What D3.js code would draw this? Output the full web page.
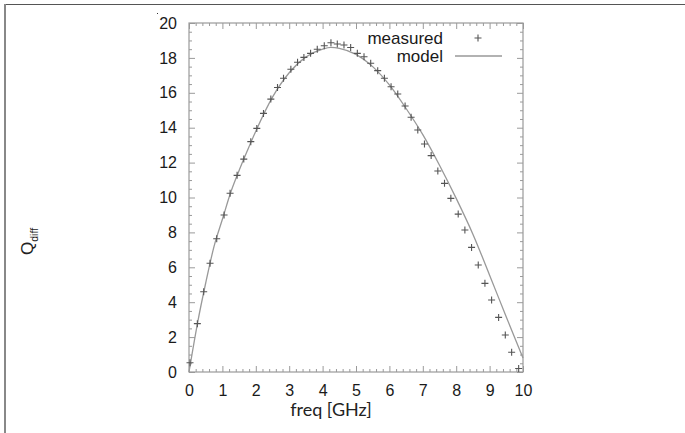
<!DOCTYPE html>
<html><head><meta charset="utf-8">
<script src="https://cdn.jsdelivr.net/npm/d3@7"></script>
<style>body{margin:0;background:#fff}svg{display:block}</style>
</head><body>
<svg id="c" width="685" height="433"></svg>
<script>
const measuredX = [0.03,0.25,0.44,0.63,0.83,1.05,1.23,1.44,1.64,1.85,2.03,2.23,2.45,2.65,2.83,3.05,3.25,3.44,3.64,3.84,4.05,4.25,4.44,4.64,4.84,5.04,5.24,5.44,5.65,5.85,6.05,6.25,6.47,6.65,6.85,7.05,7.25,7.45,7.65,7.84,8.06,8.26,8.46,8.66,8.86,9.06,9.27,9.47,9.66,9.87];
const measuredY = [0.53,2.77,4.6,6.23,7.64,9.0,10.24,11.27,12.2,13.2,13.96,14.82,15.64,16.3,16.83,17.35,17.75,18.03,18.26,18.5,18.7,18.87,18.8,18.74,18.6,18.26,18.07,17.69,17.27,16.83,16.35,15.93,15.24,14.6,13.87,13.07,12.4,11.52,10.81,9.95,9.05,8.14,7.14,6.13,5.08,4.13,3.13,2.12,1.13,0.2];
const modelX = [0,0.25,0.5,0.75,1.0,1.25,1.5,1.75,2.0,2.5,3.0,3.5,4.0,4.25,4.5,5.0,5.5,6.0,6.5,7.0,7.5,8.0,8.5,9.0,9.5,10];
const modelY = [0,2.75,5.1,7.2,8.75,10.3,11.55,12.7,13.8,15.75,17.15,18.05,18.5,18.6,18.55,18.2,17.5,16.45,15.1,13.6,11.85,9.95,7.9,5.55,3.15,0.8];
const xTicks = [0,1,2,3,4,5,6,7,8,9,10];
const yTicks = [0,2,4,6,8,10,12,14,16,18,20];
const legendLabels = ["measured","model"];
const xLabel = "freq [GHz]";

const svg = d3.select("#c");
const L=189, R=523, T=23, B=372;
const x = d3.scaleLinear().domain([0,10]).range([L,R]);
const y = d3.scaleLinear().domain([0,20]).range([B,T]);
const frameCol = "#9a9a9a";

// outer frame lines
svg.append("line").attr("x1",4).attr("x2",685).attr("y1",4.5).attr("y2",4.5).attr("stroke","#555").attr("stroke-width",1.2);
svg.append("line").attr("x1",5).attr("x2",5).attr("y1",4).attr("y2",433).attr("stroke","#888").attr("stroke-width",2);
svg.append("rect").attr("x",157).attr("y",13).attr("width",1).attr("height",1).attr("fill","#333");

const minorX = d3.range(0,51).map(i=>i/5).filter(v=>Math.abs(v-Math.round(v))>1e-6);
const minorY = d3.range(0,41).map(i=>i/2).filter(v=>Math.abs(v/2-Math.round(v/2))>1e-6);

function styleAxis(g){
  g.select(".domain").remove();
  g.selectAll("line").attr("stroke",frameCol).attr("stroke-width",1);
  g.selectAll("text").attr("fill","#1a1a1a").attr("font-family","Liberation Sans, Arial, sans-serif").attr("font-size",16);
}
svg.append("g").attr("transform",`translate(0,${B})`).call(d3.axisBottom(x).tickValues(xTicks).tickSize(-6).tickPadding(13).tickFormat(d3.format("d"))).call(styleAxis);
svg.append("g").attr("transform",`translate(0,${B})`).call(d3.axisBottom(x).tickValues(minorX).tickSize(-3).tickFormat("")).call(styleAxis);
svg.append("g").attr("transform",`translate(0,${T})`).call(d3.axisTop(x).tickValues(xTicks).tickSize(-6).tickFormat("")).call(styleAxis);
svg.append("g").attr("transform",`translate(0,${T})`).call(d3.axisTop(x).tickValues(minorX).tickSize(-3).tickFormat("")).call(styleAxis);
svg.append("g").attr("transform",`translate(${L},0)`).call(d3.axisLeft(y).tickValues(yTicks).tickSize(-6).tickPadding(12).tickFormat(d3.format("d"))).call(styleAxis);
svg.append("g").attr("transform",`translate(${L},0)`).call(d3.axisLeft(y).tickValues(minorY).tickSize(-3).tickFormat("")).call(styleAxis);
svg.append("g").attr("transform",`translate(${R},0)`).call(d3.axisRight(y).tickValues(yTicks).tickSize(-6).tickFormat("")).call(styleAxis);
svg.append("g").attr("transform",`translate(${R},0)`).call(d3.axisRight(y).tickValues(minorY).tickSize(-3).tickFormat("")).call(styleAxis);

svg.append("rect").attr("x",L).attr("y",T).attr("width",R-L).attr("height",B-T).attr("fill","none").attr("stroke",frameCol).attr("stroke-width",1.2);

// model line
const modelData = modelX.map((v,i)=>[v,modelY[i]]);
svg.append("path").datum(modelData).attr("fill","none").attr("stroke","#999").attr("stroke-width",1.3)
  .attr("d", d3.line().x(d=>x(d[0])).y(d=>y(d[1])).curve(d3.curveMonotoneX));

// measured points
const pts = measuredX.map((v,i)=>[v,measuredY[i]]);
const s=3.5;
const pg = svg.append("g").attr("stroke","#555").attr("stroke-width",1.1);
pts.forEach(d=>{
  const cx=x(d[0]), cy=y(d[1]);
  pg.append("path").attr("d",`M${cx-s},${cy}H${cx+s}M${cx},${cy-s}V${cy+s}`);
});

// legend
const lg = svg.append("g").attr("font-family","Liberation Sans, Arial, sans-serif").attr("font-size",17).attr("fill","#1a1a1a");
lg.append("text").attr("x",443).attr("y",44).attr("text-anchor","end").text(legendLabels[0]);
lg.append("text").attr("x",443).attr("y",62).attr("text-anchor","end").text(legendLabels[1]);
svg.append("path").attr("d",`M${478-s},38H${478+s}M478,${38-s}V${38+s}`).attr("stroke","#555").attr("stroke-width",1.1);
svg.append("line").attr("x1",455).attr("x2",502).attr("y1",56).attr("y2",56).attr("stroke","#999").attr("stroke-width",1.3);

// axis labels
svg.append("text").attr("x",331).attr("y",416).attr("text-anchor","middle").attr("font-family","Lato, 'Open Sans', sans-serif").attr("font-size",18).attr("fill","#222").text(xLabel);
const yl = svg.append("text").attr("transform","translate(33,255) rotate(-90)").attr("font-family","Liberation Sans, Arial, sans-serif").attr("fill","#222");
yl.append("tspan").attr("font-size",17).text("Q");
yl.append("tspan").attr("font-size",10.5).attr("dy",5).text("diff");
</script>
</body></html>
